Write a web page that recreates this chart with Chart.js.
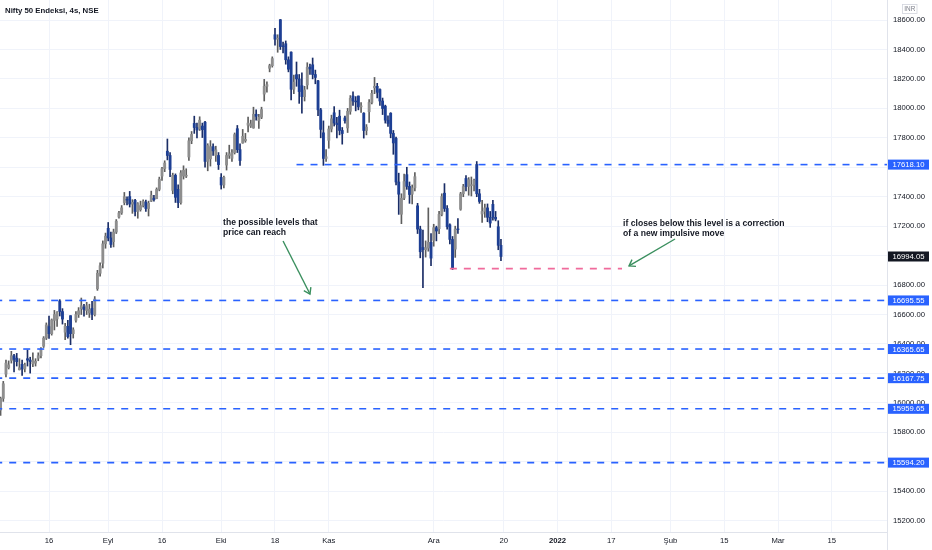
<!DOCTYPE html>
<html>
<head>
<meta charset="utf-8">
<title>Nifty 50 Endeksi, 4s, NSE</title>
<script src="https://cdn.jsdelivr.net/npm/chart.js@4.4.1/dist/chart.umd.min.js"></script>
<style>
  html, body { margin: 0; padding: 0; background: #fff; }
  #wrap { width: 932px; height: 550px; position: relative; }
</style>
</head>
<body>
<div id="wrap"><canvas id="chart"></canvas></div>
<script>
// 4h bars, bar 0 = 03.08.2021 morning session, [open, high, low, close]
const candles = [
  [15951, 16040, 15914, 16030], [16030, 16146, 16010, 16130], // 03 Aug
  [16195, 16290, 16177, 16270], [16240, 16285, 16230, 16258],
  [16288, 16350, 16270, 16320], [16320, 16330, 16210, 16295],
  [16304, 16336, 16250, 16280], [16225, 16300, 16223, 16238],
  [16262, 16290, 16186, 16230], [16230, 16270, 16210, 16258], // 09 Aug
  [16300, 16360, 16250, 16290], [16290, 16310, 16202, 16280],
  [16265, 16339, 16246, 16290], [16270, 16300, 16250, 16282],
  [16303, 16340, 16286, 16320], [16320, 16375, 16305, 16364],
  [16385, 16450, 16376, 16440], [16440, 16543, 16430, 16529],
  [16518, 16589, 16438, 16470], [16470, 16570, 16460, 16563], // 16 Aug
  [16560, 16628, 16495, 16600], [16570, 16620, 16520, 16614],
  [16692, 16701, 16590, 16620], [16620, 16640, 16535, 16569],
  [16480, 16540, 16430, 16520], [16520, 16560, 16440, 16450],
  [16592, 16592, 16395, 16470], [16470, 16510, 16440, 16496], // 23 Aug
  [16561, 16620, 16548, 16600], [16600, 16647, 16580, 16625],
  [16640, 16712, 16600, 16660], [16650, 16670, 16589, 16634],
  [16627, 16683, 16600, 16660], [16610, 16670, 16580, 16636],
  [16642, 16690, 16565, 16600], [16600, 16722, 16590, 16705],
  [16775, 16900, 16764, 16880], [16880, 16951, 16860, 16931], // 30 Aug
  [16948, 17100, 16916, 17080], [17080, 17153, 17050, 17132],
  [17186, 17225, 17100, 17120], [17120, 17160, 17055, 17076], // 01 Sep
  [17095, 17180, 17059, 17160], [17160, 17245, 17150, 17234],
  [17262, 17300, 17255, 17290], [17290, 17340, 17280, 17324],
  [17360, 17429, 17345, 17400], [17380, 17400, 17345, 17377], // 06 Sep
  [17401, 17436, 17330, 17350], [17350, 17380, 17287, 17362],
  [17375, 17383, 17270, 17300], [17300, 17360, 17254, 17353],
  [17312, 17370, 17302, 17340], [17340, 17379, 17330, 17369],
  [17363, 17378, 17300, 17320], [17320, 17370, 17269, 17355], // 13 Sep
  [17370, 17438, 17367, 17410], [17390, 17410, 17370, 17380],
  [17387, 17460, 17386, 17450], [17450, 17533, 17440, 17519],
  [17540, 17600, 17510, 17590], [17590, 17644, 17570, 17629],
  [17709, 17792, 17650, 17680], [17680, 17700, 17537, 17585],
  [17443, 17560, 17420, 17545], [17545, 17555, 17361, 17396], // 20 Sep
  [17450, 17480, 17326, 17360], [17360, 17578, 17350, 17562],
  [17540, 17610, 17520, 17580], [17540, 17590, 17530, 17546],
  [17670, 17800, 17646, 17780], [17780, 17843, 17760, 17823],
  [17898, 17947, 17830, 17870], [17870, 17900, 17799, 17853],
  [17860, 17943, 17850, 17920], [17880, 17900, 17802, 17855], // 27 Sep
  [17906, 17912, 17600, 17640], [17640, 17760, 17576, 17748],
  [17657, 17781, 17608, 17740], [17740, 17760, 17680, 17711],
  [17680, 17743, 17640, 17718], [17680, 17700, 17585, 17618],
  [17531, 17557, 17452, 17480], [17480, 17540, 17460, 17532], // 01 Oct
  [17615, 17700, 17581, 17680], [17680, 17750, 17660, 17691],
  [17661, 17720, 17640, 17700], [17700, 17833, 17690, 17822],
  [17862, 17884, 17700, 17720], [17720, 17760, 17613, 17646],
  [17765, 17857, 17763, 17810], [17780, 17830, 17770, 17790],
  [17886, 17941, 17840, 17900], [17880, 17920, 17870, 17895],
  [17867, 18008, 17865, 17960], [17960, 17990, 17920, 17946], // 11 Oct
  [17916, 17960, 17864, 17940], [17940, 18008, 17930, 17992],
  [18097, 18197, 18050, 18150], [18150, 18180, 18110, 18161],
  [18272, 18300, 18248, 18290], [18290, 18350, 18280, 18338],
  [18500, 18543, 18430, 18470], [18470, 18500, 18381, 18477], // 18 Oct
  [18602, 18604, 18400, 18420], [18420, 18450, 18377, 18419],
  [18439, 18458, 18300, 18330], [18330, 18350, 18248, 18266],
  [18382, 18384, 18057, 18130], [18130, 18226, 18100, 18178],
  [18229, 18315, 18150, 18200], [18200, 18230, 18034, 18114],
  [18154, 18241, 17968, 18080], [18080, 18150, 18050, 18125], // 25 Oct
  [18159, 18310, 18131, 18280], [18280, 18300, 18230, 18268],
  [18296, 18342, 18200, 18230], [18230, 18260, 18167, 18210],
  [18187, 18190, 17950, 17990], [17990, 18000, 17800, 17857],
  [17834, 17915, 17613, 17660], [17660, 17720, 17640, 17671],
  [17783, 17880, 17729, 17860], [17860, 17954, 17840, 17929], // 01 Nov
  [17970, 18012, 17880, 17900], [17900, 17940, 17799, 17889],
  [17947, 17988, 17820, 17850], [17850, 17870, 17757, 17829],
  [17935, 17947, 17900, 17916],                               // muhurat
  [17867, 18000, 17836, 17980], [17980, 18087, 17960, 18068], // 08 Nov
  [18084, 18112, 18020, 18050], [18050, 18080, 17983, 18044],
  [18084, 18084, 17990, 18010], [18010, 18040, 17973, 18017],
  [17967, 17971, 17798, 17850], [17850, 17890, 17820, 17873],
  [17977, 18060, 17905, 18040], [18040, 18123, 18030, 18102],
  [18140, 18210, 18100, 18150], [18150, 18170, 18071, 18109], // 15 Nov
  [18128, 18132, 18020, 18050], [18050, 18070, 17958, 17999],
  [18015, 18022, 17900, 17920], [17920, 17950, 17878, 17898],
  [17967, 17971, 17800, 17830], [17830, 17850, 17688, 17765],
  [17796, 17805, 17480, 17500], [17500, 17560, 17280, 17417], // 22 Nov
  [17281, 17420, 17217, 17390], [17390, 17553, 17380, 17503],
  [17550, 17600, 17450, 17470], [17470, 17500, 17355, 17415],
  [17417, 17480, 17351, 17460], [17460, 17564, 17440, 17536],
  [17338, 17355, 17150, 17180], [17180, 17200, 16985, 17026],
  [17055, 17174, 16782, 17040], [17040, 17100, 16990, 17054], // 29 Nov
  [17051, 17324, 17030, 17090], [17090, 17150, 16931, 16983],
  [17104, 17213, 17064, 17190], [17190, 17200, 17100, 17167], // 01 Dec
  [17183, 17300, 17149, 17280], [17280, 17420, 17270, 17401],
  [17424, 17489, 17300, 17320], [17320, 17340, 17180, 17196],
  [17209, 17216, 17080, 17110], [17110, 17130, 16905, 16912], // 06 Dec
  [17044, 17200, 16988, 17180], [17180, 17251, 17150, 17176],
  [17315, 17430, 17308, 17420], [17420, 17484, 17400, 17469],
  [17524, 17543, 17440, 17470], [17470, 17530, 17410, 17516],
  [17476, 17534, 17405, 17480], [17480, 17520, 17440, 17511],
  [17619, 17639, 17400, 17420], [17420, 17450, 17355, 17368], // 13 Dec
  [17283, 17376, 17225, 17300], [17300, 17350, 17260, 17324],
  [17324, 17351, 17230, 17260], [17260, 17300, 17192, 17221],
  [17348, 17375, 17240, 17260], [17260, 17300, 17236, 17248],
  [17196, 17237, 17040, 17070], [17070, 17110, 16966, 16994.05]
];

// time axis: bar index of each label (future bars continue the same spacing)
const tickBars = [18, 40, 60, 82, 102, 122, 161, 187, 207, 227, 249, 269, 289, 309];
const tickLabels = ['16', 'Eyl', '16', 'Eki', '18', 'Kas', 'Ara', '20', '2022', '17', 'Şub', '15', 'Mar', '15'];

const priceTicks = [15200, 15400, 15600, 15800, 16000, 16200, 16400, 16600,
                    16800, 17000, 17200, 17400, 17600, 17800, 18000, 18200, 18400, 18600];

// drawn levels and the bar where each one begins
const levelValues = [17618.10, 16695.55, 16365.65, 16167.75, 15959.65, 15594.20];
const levelStarts = [110, -2, -2, -2, -2, -2];

const supportLevel = 16912;
const supportBars = [167, 231];

// arrows [bar, price]
const arrowFrom = [[105.0, 17099], [250.7, 17113]];
const arrowTo = [[115.0, 16739], [233.6, 16930]];

const noteLines = [
  ['the possible levels that', 'price can reach'],
  ['if closes below this level is a correction', 'of a new impulsive move']
];
const noteAt = [[82.7, 17225], [231.4, 17218]];

const xMin = -0.22;
const xMax = 329.5;
const yMin = 15123;
const yMax = 18736;

const FONT = '"Liberation Sans", Arial, sans-serif';
const UP = '#8e8e8e';
const DOWN = '#1d3f94';
const LEVEL = '#2962ff';

const lastClose = candles[candles.length - 1][3];

const wickSet = {
  type: 'bar',
  grouped: false,
  order: 3,
  barThickness: 1,
  data: candles.map((c, i) => ({ x: i, y: [c[2], c[1]] })),
  backgroundColor: candles.map(c => c[3] >= c[0] ? '#5e5e5e' : '#1a2d66')
};

const bodySet = {
  type: 'bar',
  grouped: false,
  order: 2,
  barThickness: 2.2,
  minBarLength: 0.8,
  data: candles.map((c, i) => ({ x: i, y: [c[0], c[3]] })),
  backgroundColor: candles.map(c => c[3] >= c[0] ? UP : DOWN)
};

const levelSets = levelValues.map((v, k) => ({
  type: 'line',
  order: 1,
  data: [{ x: levelStarts[k], y: v }, { x: xMax + 2, y: v }],
  borderColor: LEVEL,
  borderWidth: 1.6,
  borderDash: [7, 7],
  pointRadius: 0,
  fill: false
}));

const supportSet = {
  type: 'line',
  order: 1,
  data: [{ x: supportBars[0], y: supportLevel }, { x: supportBars[1], y: supportLevel }],
  borderColor: '#f06b9c',
  borderWidth: 1.6,
  borderDash: [7, 7],
  pointRadius: 0,
  fill: false
};

const arrowSets = arrowFrom.map((p, k) => ({
  type: 'line',
  order: 0,
  data: [{ x: p[0], y: p[1] }, { x: arrowTo[k][0], y: arrowTo[k][1] }],
  borderColor: '#3a8f5e',
  borderWidth: 1.4,
  pointRadius: 0,
  fill: false
}));

const overlay = {
  id: 'overlay',
  afterDatasetsDraw(chart) {
    const { ctx, chartArea } = chart;
    const x = chart.scales.x, y = chart.scales.y;
    ctx.save();
    ctx.beginPath();
    ctx.rect(chartArea.left, chartArea.top, chartArea.width, chartArea.height);
    ctx.clip();

    // arrow heads
    ctx.strokeStyle = '#3a8f5e';
    ctx.lineWidth = 1.4;
    arrowTo.forEach((p, k) => {
      const x1 = x.getPixelForValue(arrowFrom[k][0]), y1 = y.getPixelForValue(arrowFrom[k][1]);
      const x2 = x.getPixelForValue(p[0]), y2 = y.getPixelForValue(p[1]);
      const a = Math.atan2(y2 - y1, x2 - x1);
      ctx.beginPath();
      ctx.moveTo(x2 - 7 * Math.cos(a - 0.6), y2 - 7 * Math.sin(a - 0.6));
      ctx.lineTo(x2, y2);
      ctx.lineTo(x2 - 7 * Math.cos(a + 0.6), y2 - 7 * Math.sin(a + 0.6));
      ctx.stroke();
    });

    // notes
    ctx.fillStyle = '#131722';
    ctx.font = 'bold 8.6px ' + FONT;
    ctx.textAlign = 'left';
    ctx.textBaseline = 'middle';
    noteLines.forEach((lines, k) => {
      const nx = x.getPixelForValue(noteAt[k][0]);
      const ny = y.getPixelForValue(noteAt[k][1]);
      lines.forEach((t, j) => ctx.fillText(t, nx, ny + j * 10.5));
    });
    ctx.restore();
  },
  afterDraw(chart) {
    const { ctx, chartArea } = chart;
    const y = chart.scales.y;
    ctx.save();

    // axis line full height
    ctx.strokeStyle = '#e0e3eb';
    ctx.lineWidth = 1;
    ctx.beginPath();
    ctx.moveTo(chartArea.right + 0.5, 0);
    ctx.lineTo(chartArea.right + 0.5, chart.height);
    ctx.stroke();

    // price boxes
    ctx.font = '7.7px ' + FONT;
    ctx.textAlign = 'center';
    ctx.textBaseline = 'middle';
    const box = (v, fill) => {
      const py = y.getPixelForValue(v);
      ctx.fillStyle = fill;
      ctx.fillRect(chartArea.right + 1, py - 5, 41, 10);
      ctx.fillStyle = '#ffffff';
      ctx.fillText(v.toFixed(2), chartArea.right + 21.5, py + 0.5);
    };
    levelValues.forEach(v => box(v, LEVEL));
    box(lastClose, '#131722');

    // currency tag
    ctx.strokeStyle = '#d1d4dc';
    ctx.lineWidth = 0.8;
    ctx.strokeRect(902.5, 4.5, 14.5, 9);
    ctx.fillStyle = '#787b86';
    ctx.font = '6.4px ' + FONT;
    ctx.fillText('INR', 909.8, 9.3);

    // title
    ctx.fillStyle = '#131722';
    ctx.font = 'bold 7.8px ' + FONT;
    ctx.textAlign = 'left';
    ctx.fillText('Nifty 50 Endeksi, 4s, NSE', 5, 10.5);
    ctx.restore();
  }
};

new Chart(document.getElementById('chart'), {
  type: 'bar',
  data: { datasets: [wickSet, bodySet, ...levelSets, supportSet, ...arrowSets] },
  options: {
    responsive: true,
    maintainAspectRatio: false,
    animation: false,
    layout: { padding: 0 },
    plugins: { legend: { display: false }, tooltip: { enabled: false } },
    scales: {
      x: {
        type: 'linear',
        min: xMin,
        max: xMax,
        offset: false,
        grid: { color: '#f0f3fa', drawTicks: false, offset: false },
        border: { color: '#e0e3eb' },
        ticks: {
          autoSkip: false,
          maxRotation: 0,
          padding: 4,
          color: '#131722',
          font: ctx => ({ family: FONT, size: 7.7, weight: tickLabels[ctx.index] === '2022' ? 'bold' : 'normal' }),
          callback: (v, i) => tickLabels[i]
        },
        afterBuildTicks: s => { s.ticks = tickBars.map(v => ({ value: v })); },
        afterFit: s => { s.height = 18; s.paddingLeft = 0; s.paddingRight = 0; }
      },
      y: {
        position: 'right',
        min: yMin,
        max: yMax,
        grid: { color: '#f0f3fa', drawTicks: false },
        border: { color: '#e0e3eb' },
        ticks: {
          padding: 6,
          color: '#131722',
          font: { family: FONT, size: 7.7 },
          callback: v => Number(v).toFixed(2)
        },
        afterBuildTicks: s => { s.ticks = priceTicks.map(v => ({ value: v })); },
        afterFit: s => { s.width = 45; s.paddingTop = 0; s.paddingBottom = 0; }
      }
    }
  },
  plugins: [overlay]
});
</script>
</body>
</html>
